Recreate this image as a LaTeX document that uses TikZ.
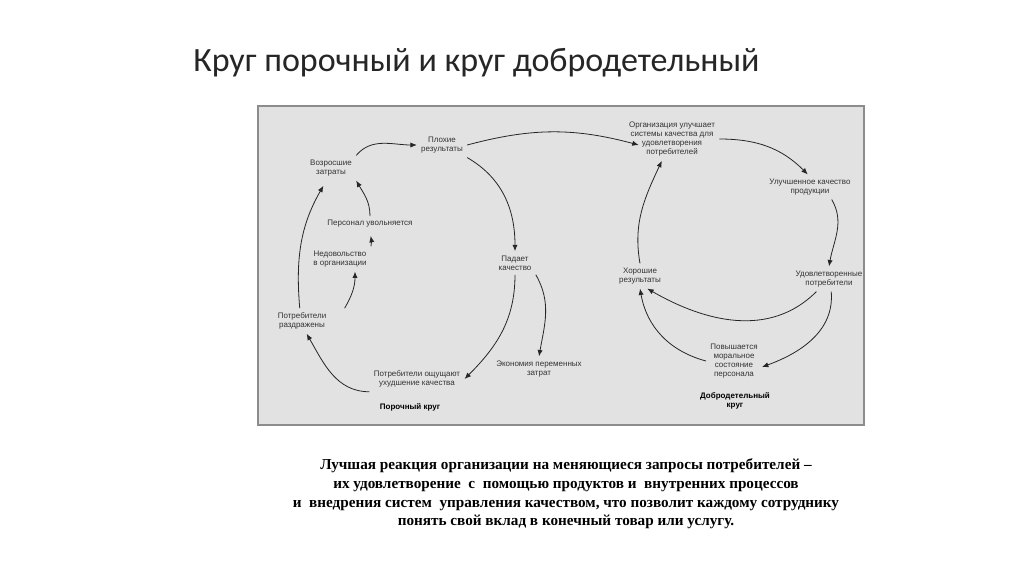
\documentclass[tikz,border=0pt]{standalone}
\usepackage{fontspec}
\setmainfont{Liberation Serif}
\setsansfont{Liberation Sans}
\newfontfamily\titlefont{Carlito}
\usetikzlibrary{arrows.meta,positioning}
\definecolor{cBox}{HTML}{E2E2E2}
\definecolor{cBoxLine}{HTML}{8C8C8C}
\definecolor{cTxt}{HTML}{333333}
\definecolor{cArr}{HTML}{262626}
\tikzset{
  lbl/.style={font=\sffamily\fontsize{4}{4.6}\selectfont, align=center,
    inner sep=2pt, text=cTxt},
  circname/.style={lbl, font=\sffamily\bfseries\fontsize{4}{4.8}\selectfont, text=black},
  flow/.style={-{Latex[length=3.2pt,width=2.6pt]}, line width=0.4pt, draw=cArr},
}
\begin{document}
\begin{tikzpicture}[x=0.5pt,y=0.5pt]
  \useasboundingbox (0,0) rectangle (1024,-574);
  \fill[white] (0,0) rectangle (1024,-574);
  % title
  \node[anchor=base west, inner sep=0pt, font=\titlefont\fontsize{17}{20}\selectfont,
    text=black!85] (title) at (193,-71) {Круг порочный и круг добродетельный};
  % grey panel
  \draw[cBoxLine, fill=cBox, line width=0.8pt] (258,-106) rectangle (864,-425);
  % vicious circle
  \node[lbl] (pl) at (442,-145) {Плохие\\результаты};
  \node[lbl] (vz) at (331,-168) {Возросшие\\затраты};
  \node[lbl] (pu) at (370,-224) {Персонал увольняется};
  \node[lbl] (nd) at (340,-259) {Недовольство\\в организации};
  \node[lbl] (pr) at (302,-321) {Потребители\\раздражены};
  \node[lbl] (po) at (417,-379) {Потребители ощущают\\ухудшение качества};
  \node[lbl] (pk) at (515,-263) {Падает\\качество};
  \node[lbl] (ek) at (539,-369) {Экономия переменных\\затрат};
  \node[circname] (por) at (410,-407) {Порочный круг};
  \draw[flow] (vz.north east) to[out=50, in=180] (pl.west);
  \draw[flow] (pu.north) to[out=90, in=-60] (vz.south east);
  \draw[flow, shorten >=2pt] (nd.north east) to[out=80, in=-80] (pu.south);
  \draw[flow] ([xshift=7pt]pr.north east) to[out=60, in=-90] (nd.-40);
  \draw[flow, shorten >=3pt] (pr.100) to[out=95, in=-120] (vz.-110);
  \draw[flow] (po.south west) to[out=180, in=-60] (pr.-70);
  \draw[flow] (pl.south east) to[out=-30, in=90] (pk.north);
  \draw[flow] (pk.south) to[out=-90, in=45] (po.east);
  \draw[flow] (pk.south east) to[out=-60, in=80] (ek.north);
  % virtuous circle
  \node[lbl] (org) at (672,-139) {Организация улучшает\\системы качества для\\удовлетворения\\потребителей};
  \node[lbl] (uk) at (810,-187) {Улучшенное качество\\продукции};
  \node[lbl] (ud) at (829,-279) {Удовлетворенные\\потребители};
  \node[lbl] (hr) at (640,-276) {Хорошие\\результаты};
  \node[lbl] (pv) at (734,-361) {Повышается\\моральное\\состояние\\персонала};
  \node[circname] (dk) at (735,-401) {Добродетельный\\круг};
  % link between the circles
  \draw[flow] (pl.east) to[out=15, in=165] ([xshift=7pt,yshift=-3pt]org.west);
  \draw[flow] (org.east) to[out=0, in=135] (uk.100);
  \draw[flow] (uk.-30) to[out=-60, in=80] (ud.north);
  \draw[flow] (hr.north) to[out=100, in=-115] (org.-115);
  \draw[flow] (ud.-135) to[out=-135, in=-30] (hr.-60);
  \draw[flow] (ud.-80) to[out=-85, in=20] ([yshift=-3pt]pv.east);
  \draw[flow] (pv.west) to[out=165, in=-80] (hr.south);
  % conclusion
  \node[align=center, font=\bfseries\fontsize{7.6}{9.3}\selectfont, inner sep=0pt] (txt) at (566,-494)
    {Лучшая реакция организации на меняющиеся запросы потребителей --\\
     их удовлетворение\ \ с\ \ помощью продуктов и\ \ внутренних процессов\\
     и\ \ внедрения систем\ \ управления качеством, что позволит каждому сотруднику\\
     понять свой вклад в конечный товар или услугу.};
\end{tikzpicture}
\end{document}
